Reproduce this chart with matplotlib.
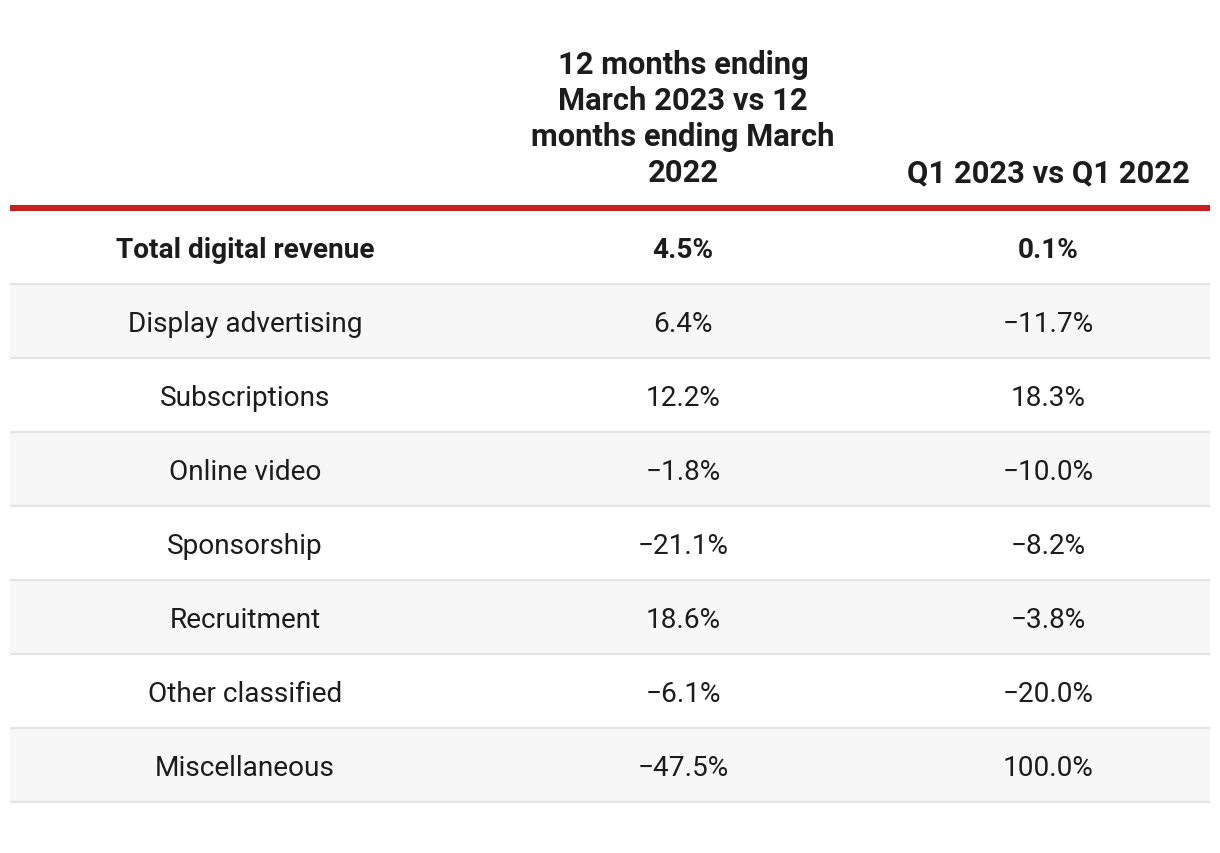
import matplotlib
matplotlib.use("Agg")
import matplotlib.pyplot as plt
from matplotlib.patches import Rectangle

categories = ["Total digital revenue", "Display advertising", "Subscriptions",
              "Online video", "Sponsorship", "Recruitment", "Other classified",
              "Miscellaneous"]
col_headers = ["12 months ending\nMarch 2023 vs 12\nmonths ending March\n2022",
               "Q1 2023 vs Q1 2022"]
annual_change = [4.5, 6.4, 12.2, -1.8, -21.1, 18.6, -6.1, -47.5]
q1_change = [0.1, -11.7, 18.3, -10.0, -8.2, -3.8, -20.0, 100.0]

W, H = 1220, 854
fig = plt.figure(figsize=(W / 100, H / 100), dpi=100)
ax = fig.add_axes([0, 0, 1, 1])
ax.set_xlim(0, W)
ax.set_ylim(H, 0)
ax.axis("off")

FAM = ["Roboto", "DejaVu Sans"]
TXT = "#1c1c1c"
left, right = 10, 1210
col_x = [245, 683, 1048]
row_top0 = 211
row_h = 74
body_fs = 20.2
head_fs = 22.2


def fmt(v):
    s = f"{abs(v):.1f}%"
    return ("\u2212" + s) if v < 0 else s


# header
ax.text(col_x[1], 182, col_headers[0], ha="center", va="baseline",
        fontsize=head_fs, fontweight="bold", family=FAM, color=TXT,
        linespacing=1.25, multialignment="center")
ax.text(col_x[2], 182, col_headers[1], ha="center", va="baseline",
        fontsize=head_fs, fontweight="bold", family=FAM, color=TXT)

# red rule
ax.add_patch(Rectangle((left, 206), right - left, 5.5, color="#c81e1e", lw=0))

for i, cat in enumerate(categories):
    top = row_top0 + i * row_h
    if i % 2 == 1:
        ax.add_patch(Rectangle((left, top), right - left, row_h,
                               color="#f7f7f7", lw=0, zorder=0))
    ax.plot([left, right], [top + row_h, top + row_h], color="#e4e4e4",
            lw=1.6, solid_capstyle="butt", zorder=1)
    cy = top + row_h / 2
    weight = "bold" if i == 0 else "normal"
    vals = [cat, fmt(annual_change[i]), fmt(q1_change[i])]
    for x, t in zip(col_x, vals):
        ax.text(x, cy, t, ha="center", va="center_baseline", fontsize=body_fs,
                fontweight=weight, family=FAM, color=TXT)

fig.savefig("out.png", dpi=100)
